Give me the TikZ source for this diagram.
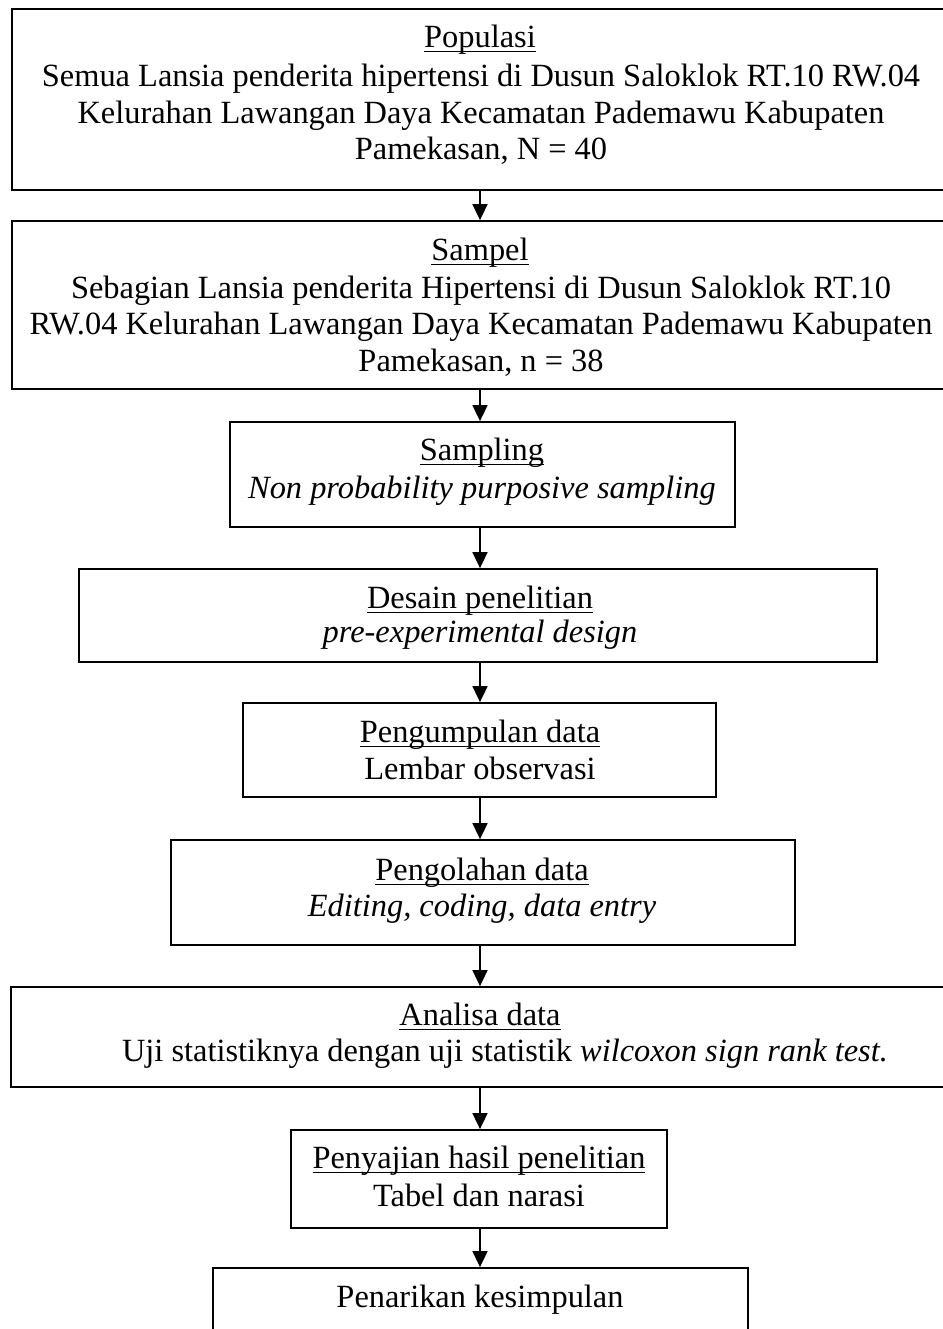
\documentclass[tikz,border=0pt]{standalone}
\usepackage{fontspec}
\setmainfont{Liberation Serif}
\usetikzlibrary{arrows.meta,fit}
\newcommand\myul[1]{\setbox0\hbox{#1}\rlap{\rule[-2.4pt]{\wd0}{0.65pt}}\box0}
\begin{document}
\begin{tikzpicture}[x=0.5pt,y=-0.5pt,
  box/.style={draw, line width=0.9pt, inner sep=0pt},
  txt/.style={anchor=base, inner sep=0pt, font=\fontsize{16.2}{18.5}\selectfont},
  arr/.style={line width=0.85pt, -{Triangle[length=8pt,width=7.5pt]}}]
\useasboundingbox (0,0) rectangle (943,1329);
\coordinate (ax) at (480,0);
% boxes
\node[box, fit={(12,9) (948,190)}] (b1) {};
\node[box, fit={(12,221) (948,389)}] (b2) {};
\node[box, fit={(230,422) (735,527)}] (b3) {};
\node[box, fit={(79,569) (877,662)}] (b4) {};
\node[box, fit={(243,703) (716,797)}] (b5) {};
\node[box, fit={(171,840) (795,945)}] (b6) {};
\node[box, fit={(11,987) (948,1087)}] (b7) {};
\node[box, fit={(291,1130) (667,1228)}] (b8) {};
\node[box, fit={(213,1268) (748,1345)}] (b9) {};
% texts
\node[txt] (t1a) at (480,47) {\myul{Populasi}};
\node[txt] (t1b) at (481,86) {Semua Lansia penderita hipertensi di Dusun Saloklok RT.10 RW.04};
\node[txt] (t1c) at (481,123) {Kelurahan Lawangan Daya Kecamatan Pademawu Kabupaten};
\node[txt] (t1d) at (481,159) {Pamekasan, N = 40};
\node[txt] (t2a) at (480,260) {\myul{Sampel}};
\node[txt] (t2b) at (481,298) {Sebagian Lansia penderita Hipertensi di Dusun Saloklok RT.10};
\node[txt] (t2c) at (481,334) {RW.04 Kelurahan Lawangan Daya Kecamatan Pademawu Kabupaten};
\node[txt] (t2d) at (481,371) {Pamekasan, n = 38};
\node[txt] (t3a) at (482,460) {\myul{Sampling}};
\node[txt] (t3b) at (482,498) {\itshape Non probability purposive sampling};
\node[txt] (t4a) at (480,608) {\myul{Desain penelitian}};
\node[txt] (t4b) at (480,642) {\itshape pre-experimental design};
\node[txt] (t5a) at (480,742) {\myul{Pengumpulan data}};
\node[txt] (t5b) at (480,779) {Lembar observasi};
\node[txt] (t6a) at (482,880) {\myul{Pengolahan data}};
\node[txt] (t6b) at (482,916.5) {\itshape Editing, coding, data entry};
\node[txt] (t7a) at (480,1025.5) {\myul{Analisa data}};
\node[txt] (t7b) at (505,1061.6) {Uji statistiknya dengan uji statistik \textit{wilcoxon sign rank test.}};
\node[txt] (t8a) at (479,1168) {\myul{Penyajian hasil penelitian}};
\node[txt] (t8b) at (479,1206) {Tabel dan narasi};
\node[txt] (t9a) at (480,1307) {Penarikan kesimpulan};
% arrows
\draw[arr] (b1.south -| ax) -- (b2.north -| ax);
\draw[arr] (b2.south -| ax) -- (b3.north -| ax);
\draw[arr] (b3.south -| ax) -- (b4.north -| ax);
\draw[arr] (b4.south -| ax) -- (b5.north -| ax);
\draw[arr] (b5.south -| ax) -- (b6.north -| ax);
\draw[arr] (b6.south -| ax) -- (b7.north -| ax);
\draw[arr] (b7.south -| ax) -- (b8.north -| ax);
\draw[arr] (b8.south -| ax) -- (b9.north -| ax);
\end{tikzpicture}
\end{document}
